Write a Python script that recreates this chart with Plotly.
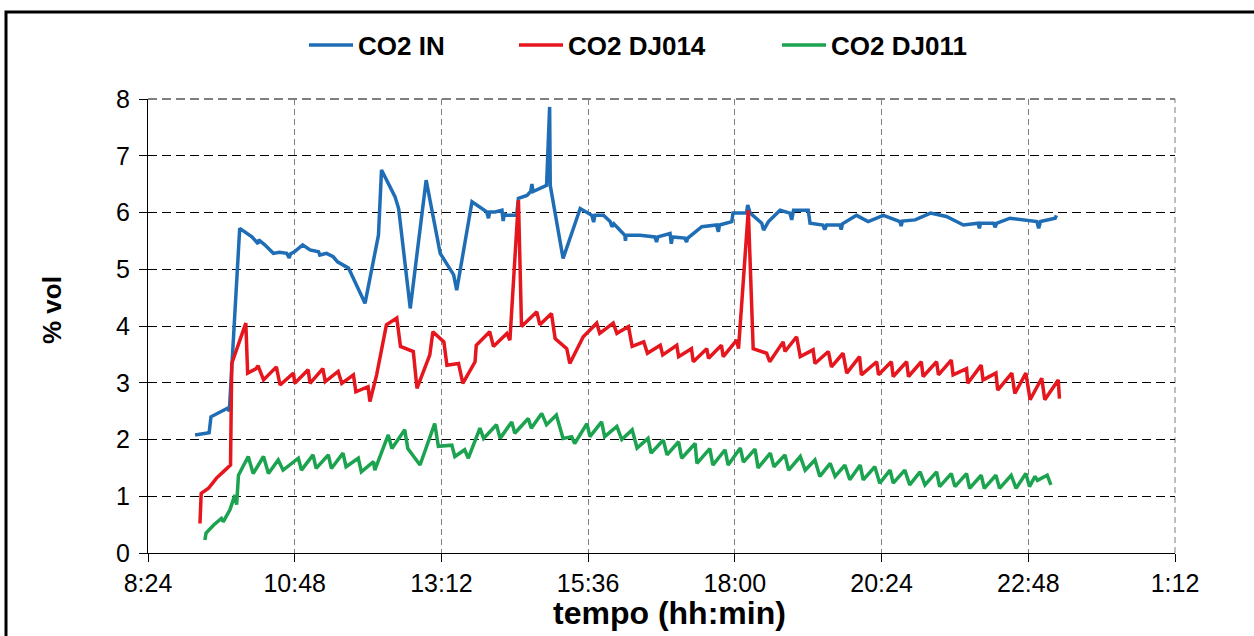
import plotly.graph_objects as go

# ---- data (time in decimal hours; >24 means after midnight) ----
tick_vals = [8.4, 10.8, 13.2, 15.6, 18.0, 20.4, 22.8, 25.2]
tick_text = ["8:24", "10:48", "13:12", "15:36", "18:00", "20:24", "22:48", "1:12"]
y_ticks = [0, 1, 2, 3, 4, 5, 6, 7, 8]

in_t = [9.17, 9.30, 9.40, 9.43, 9.58, 9.70, 9.73, 9.90, 10.10, 10.17, 10.20, 10.21, 10.31, 10.45,
        10.55, 10.67, 10.71, 10.73, 10.80, 10.93, 11.05, 11.19, 11.21, 11.32, 11.43, 11.50, 11.68,
        11.95, 12.17, 12.22, 12.44, 12.50, 12.69, 12.95, 13.18, 13.40, 13.45, 13.70, 13.94, 13.97,
        13.99, 14.08, 14.19, 14.21, 14.23, 14.27, 14.43, 14.46, 14.60, 14.66, 14.68, 14.70, 14.81,
        14.92, 14.97, 14.98, 15.19, 15.47, 15.66, 15.69, 15.71, 15.85, 15.96, 15.99, 16.02, 16.20,
        16.21, 16.22, 16.45, 16.69, 16.72, 16.74, 16.94, 16.96, 16.98, 17.18, 17.21, 17.23, 17.46,
        17.70, 17.73, 17.75, 17.95, 17.97, 18.19, 18.21, 18.25, 18.44, 18.47, 18.55, 18.74, 18.90,
        18.93, 18.96, 19.20, 19.23, 19.44, 19.47, 19.50, 19.72, 19.74, 19.76, 19.99, 20.18, 20.43,
        20.70, 20.72, 20.74, 20.95, 21.20, 21.46, 21.74, 21.98, 22.00, 22.02, 22.23, 22.26, 22.28,
        22.50, 22.72, 22.94, 22.97, 23.00, 23.24, 23.26]
in_v = [2.08, 2.10, 2.12, 2.40, 2.49, 2.55, 2.50, 5.72, 5.57, 5.49, 5.45, 5.52, 5.43, 5.28,
        5.30, 5.28, 5.20, 5.27, 5.31, 5.43, 5.34, 5.31, 5.25, 5.28, 5.22, 5.13, 5.02,
        4.40, 5.60, 6.75, 6.28, 6.07, 4.31, 6.57, 5.28, 4.90, 4.63, 6.19, 6.01, 5.90,
        6.01, 6.01, 6.04, 5.85, 5.98, 5.95, 5.95, 6.25, 6.30, 6.37, 6.50, 6.37, 6.42,
        6.48, 7.86, 6.48, 5.19, 6.07, 5.95, 5.83, 5.95, 5.95, 5.84, 5.75, 5.80, 5.60,
        5.50, 5.60, 5.60, 5.57, 5.48, 5.57, 5.63, 5.45, 5.57, 5.55, 5.48, 5.55, 5.75,
        5.78, 5.66, 5.78, 5.84, 5.99, 5.99, 6.13, 5.99, 5.81, 5.69, 5.84, 6.04, 5.99,
        5.87, 6.04, 6.04, 5.81, 5.78, 5.70, 5.78, 5.78, 5.70, 5.80, 5.95, 5.84, 5.95,
        5.84, 5.76, 5.85, 5.87, 5.99, 5.93, 5.78, 5.81, 5.72, 5.81, 5.81, 5.74, 5.81,
        5.90, 5.87, 5.84, 5.72, 5.84, 5.90, 5.95]

dj014_t = [9.25, 9.27, 9.39, 9.52, 9.63, 9.75, 9.77, 9.85, 10.00, 10.03, 10.17, 10.20, 10.29, 10.50,
           10.56, 10.78, 10.80, 11.02, 11.05, 11.26, 11.30, 11.51, 11.57, 11.76, 11.80, 12.00, 12.03,
           12.14, 12.30, 12.47, 12.53, 12.74, 12.80, 13.01, 13.06, 13.24, 13.29, 13.48, 13.55, 13.75,
           13.77, 13.99, 14.05, 14.27, 14.32, 14.46, 14.51, 14.76, 14.81, 15.00, 15.06, 15.25, 15.30,
           15.52, 15.74, 15.79, 16.01, 16.07, 16.26, 16.32, 16.51, 16.57, 16.78, 16.82, 17.05, 17.08,
           17.29, 17.32, 17.54, 17.57, 17.78, 17.81, 18.03, 18.06, 18.22, 18.30, 18.52, 18.57, 18.79,
           18.82, 19.01, 19.07, 19.28, 19.31, 19.53, 19.58, 19.77, 19.83, 20.04, 20.07, 20.32, 20.35,
           20.56, 20.59, 20.81, 20.84, 21.05, 21.08, 21.30, 21.33, 21.54, 21.57, 21.79, 21.81, 22.03,
           22.06, 22.27, 22.30, 22.53, 22.58, 22.76, 22.83, 23.02, 23.07, 23.29, 23.31]
dj014_v = [0.52, 1.05, 1.14, 1.32, 1.43, 1.55, 3.34, 3.58, 4.05, 3.17, 3.25, 3.30, 3.05, 3.28,
           2.96, 3.17, 2.99, 3.23, 2.99, 3.25, 3.02, 3.20, 2.99, 3.14, 2.84, 2.93, 2.67,
           3.14, 4.02, 4.14, 3.64, 3.55, 2.90, 3.49, 3.90, 3.72, 3.31, 3.34, 2.99, 3.37,
           3.66, 3.90, 3.64, 3.87, 3.75, 6.22, 3.99, 4.25, 4.02, 4.22, 3.78, 3.60, 3.34,
           3.81, 4.05, 3.87, 4.05, 3.87, 3.99, 3.64, 3.72, 3.52, 3.66, 3.49, 3.66, 3.46,
           3.60, 3.37, 3.60, 3.43, 3.66, 3.46, 3.75, 3.60, 6.04, 3.60, 3.52, 3.37, 3.72,
           3.55, 3.81, 3.46, 3.58, 3.34, 3.55, 3.28, 3.52, 3.17, 3.46, 3.14, 3.37, 3.14,
           3.37, 3.11, 3.37, 3.11, 3.37, 3.11, 3.37, 3.14, 3.40, 3.14, 3.25, 2.99, 3.31,
           3.05, 3.17, 2.87, 3.17, 2.81, 3.17, 2.70, 3.08, 2.70, 3.05, 2.72]

dj011_t = [9.33, 9.35, 9.47, 9.60, 9.63, 9.74, 9.82, 9.85, 9.88, 10.04, 10.12, 10.29, 10.37, 10.53,
           10.61, 10.86, 10.91, 11.10, 11.15, 11.35, 11.40, 11.59, 11.64, 11.84, 11.89, 12.09, 12.11,
           12.33, 12.39, 12.60, 12.65, 12.85, 13.09, 13.15, 13.37, 13.42, 13.58, 13.64, 13.83, 13.89,
           14.10, 14.16, 14.35, 14.40, 14.62, 14.67, 14.84, 14.92, 15.08, 15.19, 15.33, 15.38, 15.58,
           15.63, 15.82, 15.87, 16.07, 16.15, 16.32, 16.40, 16.58, 16.63, 16.83, 16.89, 17.08, 17.13,
           17.35, 17.38, 17.59, 17.64, 17.84, 17.89, 18.09, 18.14, 18.33, 18.38, 18.58, 18.64, 18.82,
           18.88, 19.07, 19.15, 19.31, 19.39, 19.56, 19.64, 19.80, 19.88, 20.05, 20.10, 20.29, 20.37,
           20.54, 20.59, 20.78, 20.86, 21.03, 21.11, 21.30, 21.35, 21.54, 21.60, 21.79, 21.84, 22.03,
           22.08, 22.27, 22.33, 22.52, 22.60, 22.76, 22.82, 22.91, 22.95, 23.11, 23.17]
dj011_v = [0.23, 0.35, 0.49, 0.61, 0.55, 0.76, 1.02, 0.85, 1.37, 1.70, 1.40, 1.70, 1.40, 1.64,
           1.46, 1.67, 1.46, 1.73, 1.49, 1.73, 1.49, 1.76, 1.52, 1.67, 1.43, 1.61, 1.46,
           2.08, 1.84, 2.17, 1.84, 1.55, 2.28, 1.88, 1.90, 1.70, 1.82, 1.67, 2.20, 2.02,
           2.26, 2.02, 2.31, 2.11, 2.37, 2.20, 2.46, 2.26, 2.43, 2.02, 2.05, 1.93, 2.28,
           2.05, 2.31, 2.05, 2.23, 2.00, 2.17, 1.85, 2.02, 1.76, 1.99, 1.73, 1.96, 1.67,
           1.93, 1.58, 1.84, 1.55, 1.82, 1.55, 1.85, 1.60, 1.83, 1.50, 1.76, 1.52, 1.73,
           1.46, 1.70, 1.46, 1.64, 1.35, 1.58, 1.35, 1.55, 1.29, 1.55, 1.29, 1.52, 1.23,
           1.46, 1.23, 1.46, 1.20, 1.43, 1.20, 1.43, 1.17, 1.40, 1.17, 1.40, 1.14, 1.37,
           1.14, 1.37, 1.14, 1.37, 1.14, 1.40, 1.17, 1.35, 1.28, 1.37, 1.20]

series_names = ["CO2 IN", "CO2 DJ014", "CO2 DJ011"]
series_colors = ["#1F6EB5", "#E5161D", "#1BA34F"]
legend_widths = [151, 204, 140]

FONT = "Arial, Liberation Sans, sans-serif"

fig = go.Figure()
for name, xs, ys, col, lw in zip(series_names, [in_t, dj014_t, dj011_t],
                                 [in_v, dj014_v, dj011_v], series_colors, legend_widths):
    fig.add_trace(go.Scatter(x=xs, y=ys, mode="lines", name=name,
                             line=dict(color=col, width=3.5), legendwidth=lw))

L, R, T, B = 148, 79, 99, 83
W, H = 1254, 636
pw, ph = W - L - R, H - T - B

def px_x(p):
    return (p - L) / pw

def px_y(p):
    return (H - B - p) / ph

fig.update_layout(
    width=W, height=H,
    margin=dict(l=L, r=R, t=T, b=B, pad=0),
    paper_bgcolor="white", plot_bgcolor="white",
    font=dict(family=FONT, color="black"),
    showlegend=True,
    legend=dict(orientation="h", x=px_x(304), y=px_y(45), xanchor="left", yanchor="middle",
                font=dict(size=26, weight="bold", family=FONT, color="black"),
                bgcolor="rgba(0,0,0,0)", itemwidth=44),
    xaxis=dict(range=[8.4, 25.2], tickvals=tick_vals, ticktext=tick_text,
               showline=True, linecolor="black", linewidth=1,
               ticks="outside", ticklen=8, tickcolor="black",
               showgrid=True, gridcolor="#7f7f7f", gridwidth=1, griddash="6px,4px",
               zeroline=False, tickfont=dict(size=25, family=FONT, color="black")),
    yaxis=dict(range=[0, 8], tickvals=y_ticks,
               showline=True, linecolor="black", linewidth=1,
               ticks="outside", ticklen=8, tickcolor="black",
               showgrid=True, gridcolor="black", gridwidth=1, griddash="9px,5px",
               zeroline=False, tickfont=dict(size=25, family=FONT, color="black"),
               ticklabelstandoff=4),
    annotations=[
        dict(text="tempo (hh:min)", xref="paper", yref="paper", x=px_x(669), y=px_y(613),
             xanchor="center", yanchor="middle", showarrow=False,
             font=dict(size=32, weight="bold", family=FONT, color="black")),
        dict(text="% vol", xref="paper", yref="paper", x=px_x(52), y=px_y(310),
             xanchor="center", yanchor="middle", showarrow=False, textangle=-90,
             font=dict(size=26, weight="bold", family=FONT, color="black")),
    ],
    shapes=[
        # outer chart frame
        dict(type="rect", xref="paper", yref="paper", x0=px_x(6), x1=px_x(1265),
             y0=px_y(650), y1=px_y(12), line=dict(color="black", width=3),
             fillcolor="rgba(0,0,0,0)", layer="below"),
        # grid lines at the range ends (y = 8, x = 1:12)
        dict(type="line", xref="paper", yref="paper", x0=0, x1=1, y0=1, y1=1,
             line=dict(color="black", width=1, dash="9px,5px"), layer="below"),
        dict(type="line", xref="paper", yref="paper", x0=1, x1=1, y0=0, y1=1,
             line=dict(color="#7f7f7f", width=1, dash="6px,4px"), layer="below"),
    ],
)

fig.write_html("out.html", config={"displayModeBar": False},
               post_script="document.body.style.margin='0';")
